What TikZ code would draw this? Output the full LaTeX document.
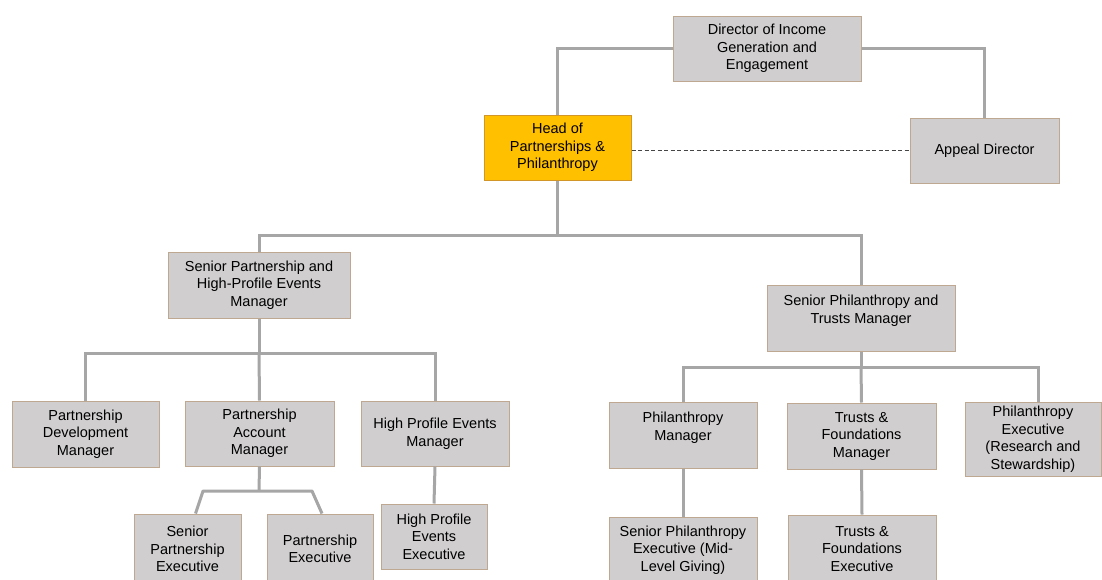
\documentclass[tikz,border=0pt]{standalone}
\usepackage{fontspec}
\setmainfont{Liberation Sans}
\definecolor{boxfill}{RGB}{208,206,206}
\definecolor{boxline}{RGB}{190,168,145}
\definecolor{headfill}{RGB}{255,192,0}
\definecolor{headline}{RGB}{210,150,40}
\definecolor{conncol}{RGB}{166,166,166}
\definecolor{dashcol}{RGB}{70,70,70}
\begin{document}
\begin{tikzpicture}[x=1pt,y=-1pt,
  orgbox/.style={draw=boxline, line width=1pt, fill=boxfill, align=center, inner sep=0pt,
    font=\fontsize{14.5}{17.5}\selectfont},
  headbox/.style={orgbox, draw=headline, fill=headfill},
  conn/.style={draw=conncol, line width=3pt},
  dashconn/.style={draw=dashcol, line width=1.1pt, dash pattern=on 4pt off 2.5pt}]
\clip (0,0) rectangle (1102,579);
\fill[white] (0,0) rectangle (1102,579);
% nodes
\node[orgbox, minimum width=188, minimum height=65] (dir) at (767,48.5) {Director of Income\\Generation and\\Engagement};
\node[headbox, minimum width=147, minimum height=65] (head) at (557.5,147.5) {Head of\\Partnerships \&\\Philanthropy};
\node[orgbox, minimum width=149, minimum height=65] (appeal) at (984.5,150.5) {Appeal Director};
\node[orgbox, minimum width=182, minimum height=66] (spm) at (259,285) {Senior Partnership and\\High-Profile Events\\Manager};
\node[orgbox, minimum width=188, minimum height=66] (sptm) at (861,318) {Senior Philanthropy and\\Trusts Manager\\\mbox{}};
\node[orgbox, minimum width=147, minimum height=66] (pdm) at (85.5,434) {Partnership\\Development\\Manager};
\node[orgbox, minimum width=149, minimum height=65] (pam) at (259.5,433.5) {Partnership\\Account\\Manager};
\node[orgbox, minimum width=148, minimum height=65] (hpem) at (435,433.5) {High Profile Events\\Manager};
\node[orgbox, minimum width=107, minimum height=70] (spe) at (187.5,549) {Senior\\Partnership\\Executive};
\node[orgbox, minimum width=106, minimum height=70] (pe) at (320,549) {Partnership\\Executive};
\node[orgbox, minimum width=106, minimum height=65] (hpee) at (434,536.5) {High Profile\\Events\\Executive};
\node[orgbox, minimum width=148, minimum height=66] (phm) at (683,435) {Philanthropy\\Manager\\\mbox{}};
\node[orgbox, minimum width=149, minimum height=66] (tfm) at (861.5,436) {Trusts \&\\Foundations\\Manager};
\node[orgbox, minimum width=136, minimum height=74] (phe) at (1033,439) {Philanthropy\\Executive\\(Research and\\Stewardship)};
\node[orgbox, minimum width=148, minimum height=66] (spex) at (683,550) {Senior Philanthropy\\Executive (Mid-\\Level Giving)};
\node[orgbox, minimum width=148, minimum height=68] (tfe) at (862,549) {Trusts \&\\Foundations\\Executive};
% bus coordinates
\coordinate (bus1) at (557.5,235);
\coordinate (bus2) at (259,353);
\coordinate (bus3) at (259,491);
\coordinate (a1) at (203,491);
\coordinate (a2) at (312,491);
\coordinate (bus4) at (861,367);
% connectors
\draw[conn] (dir.west) -| (head.north);
\draw[conn] (dir.east) -| (appeal.north);
\draw[dashconn] (head.east |- appeal.west) -- (appeal.west);
\draw[conn] (head.south) -- (bus1);
\draw[conn] (spm.north) |- (bus1) -| (sptm.north);
\draw[conn] (spm.south) -- (bus2);
\draw[conn] (pdm.north) |- (bus2) -| (hpem.north);
\draw[conn] (bus2) -- (pam.north);
\draw[conn] (pam.south) -- (bus3);
\draw[conn, line join=round] ([xshift=8]spe.north) -- (a1) -- (a2) -- ([xshift=2]pe.north);
\draw[conn] (hpem.south) -- (hpee.north);
\draw[conn] (sptm.south) -- (bus4);
\draw[conn] (phm.north) |- (bus4) -| ([xshift=5]phe.north);
\draw[conn] (bus4) -- (tfm.north);
\draw[conn] (phm.south) -- (spex.north);
\draw[conn] (tfm.south) -- (tfe.north);
\end{tikzpicture}
\end{document}
